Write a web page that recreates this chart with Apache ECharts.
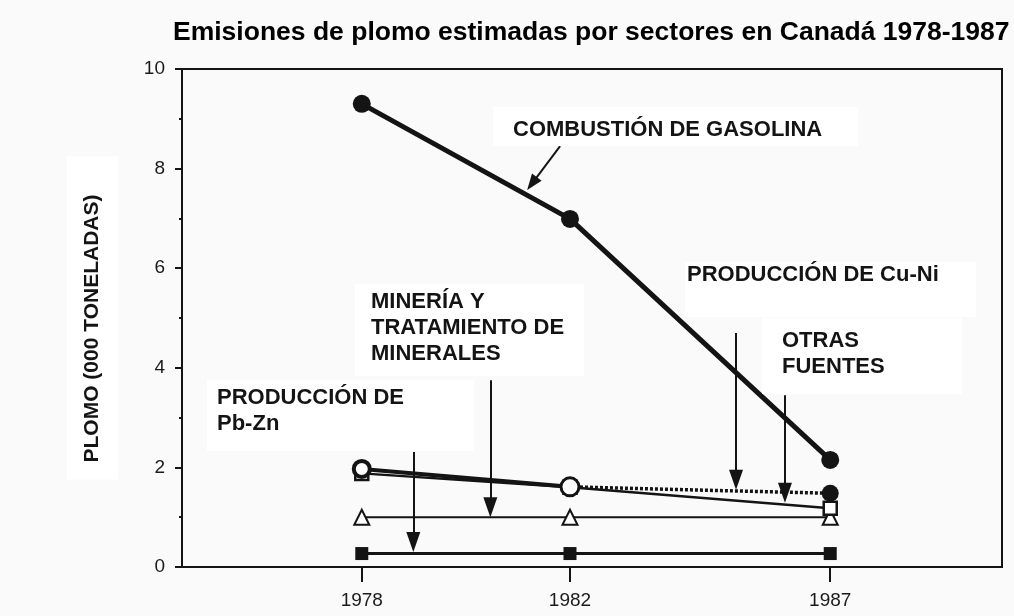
<!DOCTYPE html>
<html>
<head>
<meta charset="utf-8">
<script src="https://cdn.jsdelivr.net/npm/echarts@6/dist/echarts.min.js"></script>
<style>
  html, body { margin: 0; padding: 0; background: #fafafa; }
  #main { width: 1014px; height: 616px; }
</style>
</head>
<body>
<div id="main"></div>
<script>
// años y valores (miles de toneladas)
var years = [1978, 1982, 1987];
var yearLabels = ['1978', '1982', '1987'];
var gasolina = [9.30, 6.99, 2.15];
var cuNi = [1.97, 1.61, 1.48];
var otrasFuentes = [1.88, 1.60, 1.18];
var mineria = [1.00, 1.00, 1.00];
var pbZn = [0.27, 0.27, 0.27];

// flechas de anotacion: [inicio, fin] en coordenadas de datos
var arrowGasolina = [[1981.81, 8.45], [1981.27, 7.70]];
var arrowPbZn = [[1978.99, 2.31], [1978.99, 0.50]];
var arrowMineria = [[1980.47, 3.75], [1980.47, 1.20]];
var arrowCuNi = [[1985.19, 4.70], [1985.19, 1.75]];
var arrowOtras = [[1986.13, 3.45], [1986.13, 1.49]];

var font = '"Liberation Sans", Arial, sans-serif';
var ink = '#141414';

function pairs(vals, keep) {
    var out = [];
    for (var i = 0; i < vals.length; i++) {
        out.push(keep && keep.indexOf(i) < 0 ? [years[i], null] : [years[i], vals[i]]);
    }
    return out;
}

function arrow(a) {
    return [{ coord: a[0] }, { coord: a[1] }];
}

function label(x, y, text, pad) {
    return {
        type: 'text', x: x, y: y, z: 100,
        style: {
            text: text,
            font: 'bold 22px ' + font,
            fill: ink,
            lineHeight: 26,
            align: 'left',
            verticalAlign: 'top',
            backgroundColor: '#ffffff',
            padding: pad
        }
    };
}

var myChart = echarts.init(document.getElementById('main'));

// circulos de Cu-Ni: abierto en 1982, lleno en los extremos
var cuNiData = pairs(cuNi).map(function (p, i) {
    if (i === 1) return { value: p, symbolSize: 18, itemStyle: { color: '#fff', borderColor: ink, borderWidth: 3 } };
    if (i === 0) return { value: p, symbolSize: 16, itemStyle: { color: '#fff', borderColor: ink, borderWidth: 4 } };
    return { value: p, symbolSize: 17, itemStyle: { color: ink, borderColor: ink, borderWidth: 0 } };
});

var option = {
    animation: false,
    backgroundColor: '#fafafa',
    title: {
        text: 'Emisiones de plomo estimadas por sectores en Canadá 1978-1987',
        left: 173,
        top: 19,
        padding: 0,
        textStyle: { fontFamily: font, fontWeight: 'bold', fontSize: 26.5, color: '#000' }
    },
    grid: {
        left: 182, right: 12, top: 69, bottom: 49,
        show: true, borderColor: ink, borderWidth: 2, backgroundColor: 'transparent'
    },
    xAxis: {
        type: 'value',
        min: 1974.546,
        max: 1990.30,
        axisLine: { lineStyle: { color: ink, width: 2 } },
        axisTick: { customValues: years, length: 15, lineStyle: { color: ink, width: 2 } },
        axisLabel: {
            customValues: years,
            margin: 24,
            fontFamily: font, fontSize: 19, color: '#1a1a1a',
            formatter: function (v) { return yearLabels[years.indexOf(v)] || String(v); }
        },
        splitLine: { show: false }
    },
    yAxis: {
        type: 'value',
        min: 0, max: 10, interval: 2,
        name: 'PLOMO (000 TONELADAS)',
        nameLocation: 'middle',
        nameRotate: 90,
        nameGap: 64,
        nameTextStyle: {
            fontFamily: font, fontWeight: 'bold', fontSize: 21, color: ink,
            backgroundColor: '#ffffff', padding: [15, 38, 15, 17]
        },
        axisLine: { show: true, lineStyle: { color: ink, width: 2 } },
        axisTick: { show: true, length: 7, lineStyle: { color: ink, width: 2 } },
        minorTick: { show: true, splitNumber: 2, length: 3, lineStyle: { color: ink, width: 2 } },
        axisLabel: { margin: 17, fontFamily: font, fontSize: 19, color: '#1a1a1a' },
        splitLine: { show: false }
    },
    series: [
        {
            name: 'Pb-Zn', type: 'line', z: 2,
            data: pairs(pbZn),
            symbol: 'rect', symbolSize: 13,
            lineStyle: { color: ink, width: 3 },
            itemStyle: { color: ink },
            markLine: {
                silent: true,
                symbol: ['none', 'triangle'],
                symbolSize: [14, 20],
                label: { show: false },
                lineStyle: { color: ink, width: 2, type: 'solid' },
                data: [arrow(arrowPbZn), arrow(arrowMineria), arrow(arrowCuNi), arrow(arrowOtras)]
            }
        },
        {
            name: 'Minería', type: 'line', z: 3,
            data: pairs(mineria),
            symbol: 'triangle', symbolSize: 15,
            lineStyle: { color: ink, width: 2 },
            itemStyle: { color: '#fff', borderColor: ink, borderWidth: 2 }
        },
        {
            name: 'Otras fuentes', type: 'line', z: 4,
            data: pairs(otrasFuentes),
            symbol: 'rect', symbolSize: 13,
            lineStyle: { color: ink, width: 2.5 },
            itemStyle: { color: '#fff', borderColor: ink, borderWidth: 2.5 }
        },
        {
            name: 'Cu-Ni', type: 'line', z: 5,
            data: pairs(cuNi, [1, 2]),
            symbol: 'none',
            lineStyle: { color: ink, width: 3.5, type: [3, 2] }
        },
        {
            name: 'Cu-Ni', type: 'line', z: 6,
            data: cuNiData.map(function (d, i) { return i === 2 ? { value: [years[2], null] } : d; }),
            symbol: 'circle',
            lineStyle: { color: ink, width: 4 }
        },
        {
            name: 'Cu-Ni', type: 'line', z: 6,
            data: cuNiData.map(function (d, i) { return i === 2 ? d : { value: [years[i], null] }; }),
            symbol: 'circle',
            lineStyle: { width: 0 }
        },
        {
            name: 'Gasolina', type: 'line', z: 7,
            data: pairs(gasolina),
            symbol: 'circle', symbolSize: 18,
            lineStyle: { color: ink, width: 5 },
            itemStyle: { color: ink },
            markLine: {
                silent: true,
                symbol: ['none', 'triangle'],
                symbolSize: [12, 16],
                label: { show: false },
                lineStyle: { color: ink, width: 2, type: 'solid' },
                data: [arrow(arrowGasolina)]
            }
        }
    ],
    graphic: [
        label(493, 107, 'COMBUSTIÓN DE GASOLINA', [10, 36, 3, 20]),
        label(685, 262, 'PRODUCCIÓN DE Cu-Ni', [0, 37, 29, 2]),
        label(355, 284, 'MINERÍA Y\nTRATAMIENTO DE\nMINERALES', [5, 20, 9, 16]),
        label(762, 318, 'OTRAS\nFUENTES', [10, 77, 14, 20]),
        label(207, 380, 'PRODUCCIÓN DE\nPb-Zn', [5, 70, 14, 10])
    ]
};

myChart.setOption(option);
</script>
</body>
</html>
